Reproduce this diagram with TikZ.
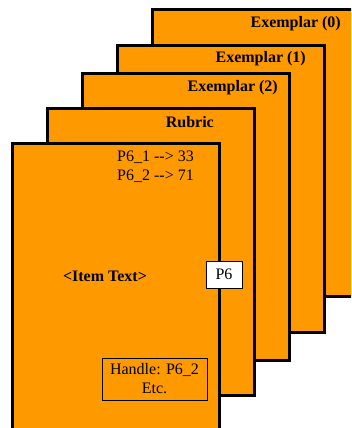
\documentclass[tikz,border=0pt]{standalone}
\usepackage{fontspec}
\setmainfont{Liberation Serif}
\usepackage{xcolor}
\usepackage{tikz}
\usetikzlibrary{positioning}

\definecolor{sheetorange}{HTML}{FF9900}

\begin{document}
\begin{tikzpicture}[
    x=1pt, y=-1pt,
    font=\fontsize{16}{19}\selectfont,
    sheet/.style={rectangle, draw, line width=2.6pt, fill=sheetorange, minimum width=207pt, minimum height=287pt, anchor=north west, inner sep=0pt},
    title/.style={font=\fontsize{16}{19}\selectfont\bfseries, inner sep=0pt, anchor=east},
    plain/.style={inner sep=0pt},
    tagbox/.style={rectangle, draw, line width=0.8pt, align=center, inner sep=0pt}
]
\useasboundingbox (0,0) rectangle (351,428);
\clip (0,0) rectangle (351,428);

% Back to front
\node[sheet] (ex0) at (151,8) {};
\node[title] (ex0lbl) at (341,24) {Exemplar (0)};

\node[sheet] (ex1) at (116,44) {};
\node[title] (ex1lbl) at (306,59) {Exemplar (1)};

\node[sheet] (ex2) at (81,72) {};
\node[title] (ex2lbl) at (278,88) {Exemplar (2)};

\node[sheet] (rubric) at (46,107) {};
\node[title] (rubriclbl) at (214,122) {Rubric};

% Item page
\node[sheet] (item) at (11,142) {};
\node[plain, align=left, anchor=west] (map) at (117,166.5) {P6\_1 -{}-> 33\\P6\_2 -{}-> 71};
\node[plain, font=\fontsize{16}{19}\selectfont\bfseries] (itemtxt) at (105,276) {<Item Text>};
\node[tagbox, fill=white, minimum width=36pt, minimum height=27pt] (tag) at (224,274.5) {P6};
\node[tagbox, minimum width=105pt, minimum height=42pt] (handle) at (154.5,379) {Handle: P6\_2\\Etc.};

\end{tikzpicture}
\end{document}
